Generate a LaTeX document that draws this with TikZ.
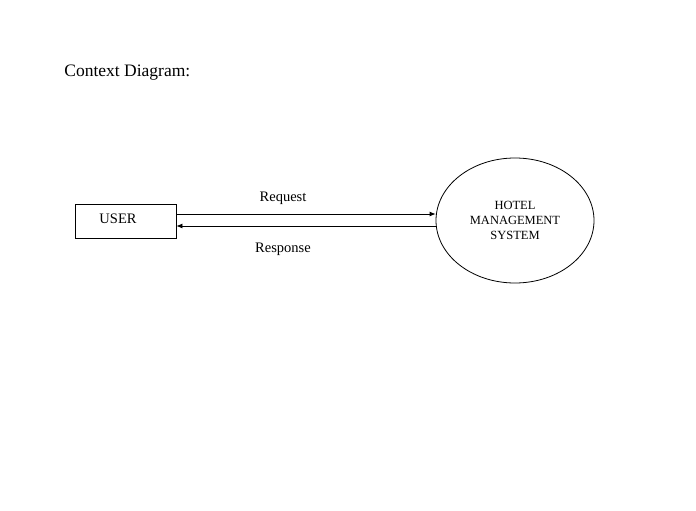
\documentclass[tikz,border=0pt]{standalone}
\usepackage{fontspec}
\setmainfont{Liberation Serif}
\usepackage{tikz}
\usetikzlibrary{shapes}
\usetikzlibrary{arrows.meta}

\begin{document}
\begin{tikzpicture}[x=1pt,y=-1pt,line width=0.8pt,
    entity/.style={draw,minimum width=101pt,minimum height=34pt,inner sep=0pt,font=\fontsize{14.5}{16}\selectfont},
    process/.style={draw,ellipse,minimum width=158pt,minimum height=125pt,inner sep=0pt,align=center,font=\fontsize{12.5}{15}\selectfont},
    flowlabel/.style={font=\fontsize{14.5}{16}\selectfont},
    flow/.style={-{Latex[length=6pt,width=5pt]}}]
        \useasboundingbox (0,0) rectangle (696,511);
        \node[anchor=base west,inner sep=0pt,font=\fontsize{17.5}{20}\selectfont] (title) at (64,77) {Context Diagram:};
        \node[entity] (user) at (125.5,221) {};
        \node[flowlabel] (userlbl) at (118,219) {USER};
        \node[process] (hms) at (515,220.5) {HOTEL\\MANAGEMENT\\SYSTEM};
        \draw[flow] ([yshift=7pt]user.east) -- ([yshift=7pt]user.east -| hms.west);
        \draw[flow] ([yshift=-5pt]user.east -| hms.west) -- ([yshift=-5pt]user.east);
        \node[flowlabel] (req) at (283,198) {Request};
        \node[flowlabel] (resp) at (283,249.5) {Response};
      \end{tikzpicture}
\end{document}
